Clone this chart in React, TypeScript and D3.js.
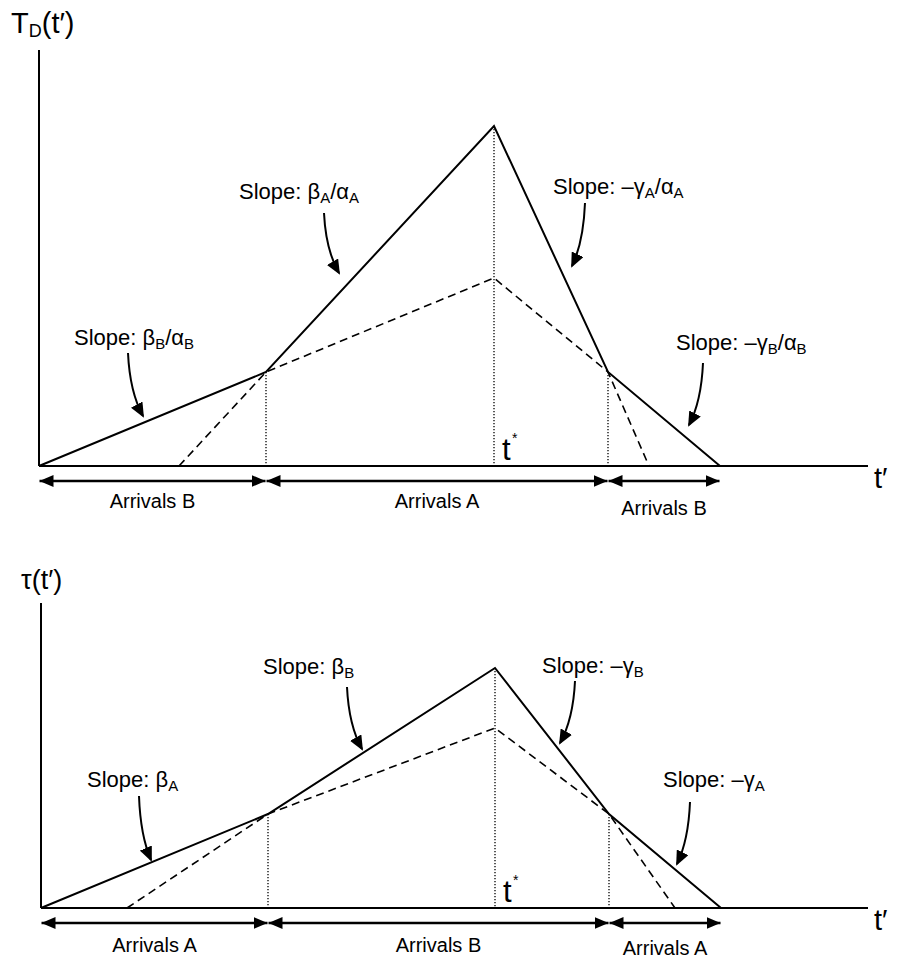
import React from "react";
import * as d3 from "d3";

// ---------- data ----------
// Top panel: T_D(t')
const topSolidT = [0, 227, 455, 569, 681];
const topSolidV = [0, 94, 340, 94, 0];
const topDashT = [140, 227, 455, 569, 610];
const topDashV = [0, 94, 188, 94, 0];
const topSegLabels = ["Arrivals B", "Arrivals A", "Arrivals B"];

// Bottom panel: tau(t')
const botSolidT = [0, 227, 454, 568, 680];
const botSolidV = [0, 94, 240, 94, 0];
const botDashT = [86, 227, 454, 568, 634];
const botDashV = [0, 94, 180, 94, 0];
const botSegLabels = ["Arrivals A", "Arrivals B", "Arrivals A"];

type Slope = { parts: [string, string][]; x: number; y: number; from: [number, number]; to: [number, number] };

const topSlopes: Slope[] = [
  { parts: [["β", "A"], ["/α", "A"]], x: 239, y: 199, from: [324, 213], to: [339, 273] },
  { parts: [["–γ", "A"], ["/α", "A"]], x: 553, y: 194, from: [585, 203], to: [572, 266] },
  { parts: [["β", "B"], ["/α", "B"]], x: 74, y: 345, from: [128, 353], to: [143, 416] },
  { parts: [["–γ", "B"], ["/α", "B"]], x: 676, y: 350, from: [703, 363], to: [689, 425] },
];
const botSlopes: Slope[] = [
  { parts: [["β", "B"]], x: 263, y: 674, from: [347, 687], to: [362, 749] },
  { parts: [["–γ", "B"]], x: 542, y: 673, from: [575, 681], to: [560, 743] },
  { parts: [["β", "A"]], x: 87, y: 787, from: [139, 796], to: [151, 860] },
  { parts: [["–γ", "A"]], x: 663, y: 787, from: [690, 802], to: [677, 864] },
];

const FONT = "Liberation Sans, Arial, sans-serif";

function Panel(props: {
  x0: number; x1: number; yTop: number; yBase: number; vMax: number; tMax: number;
  solidT: number[]; solidV: number[]; dashT: number[]; dashV: number[]; segLabels: string[];
  arrowY: number; labelYs: number[]; id: string;
}) {
  const { x0, x1, yTop, yBase, vMax, tMax, solidT, solidV, dashT, dashV, segLabels, arrowY, labelYs, id } = props;
  const x = d3.scaleLinear().domain([0, tMax]).range([x0, x1]);
  const y = d3.scaleLinear().domain([0, vMax]).range([yBase, yTop]);
  const gen = d3.line<[number, number]>().x(d => x(d[0])).y(d => y(d[1]));
  const solid = gen(solidT.map((t, i) => [t, solidV[i]]))!;
  const dash = gen(dashT.map((t, i) => [t, dashV[i]]))!;
  const bounds = [solidT[0], solidT[1], solidT[3], solidT[4]];
  return (
    <g>
      <defs>
        <marker id={id + "he"} viewBox="0 0 14 12" refX={14} refY={6} markerWidth={14} markerHeight={12}
          markerUnits="userSpaceOnUse" orient="auto">
          <path d="M0,0 L14,6 L0,12 Z" fill="#000" />
        </marker>
        <marker id={id + "hs"} viewBox="0 0 14 12" refX={0} refY={6} markerWidth={14} markerHeight={12}
          markerUnits="userSpaceOnUse" orient="auto">
          <path d="M14,0 L0,6 L14,12 Z" fill="#000" />
        </marker>
      </defs>
      {/* axes */}
      <line x1={x0} y1={yTop} x2={x0} y2={yBase} stroke="#000" strokeWidth={2} />
      <line x1={x0} y1={yBase} x2={x1} y2={yBase} stroke="#000" strokeWidth={2} />
      {/* dotted verticals */}
      {[1, 2, 3].map(i => (
        <line key={i} x1={x(solidT[i])} x2={x(solidT[i])} y1={y(solidV[i])} y2={yBase}
          stroke="#000" strokeWidth={1.3} strokeDasharray="1.3 1.7" />
      ))}
      <path d={dash} fill="none" stroke="#000" strokeWidth={1.6} strokeDasharray="8 5" />
      <path d={solid} fill="none" stroke="#000" strokeWidth={2} strokeLinejoin="miter" />
      {/* t* */}
      <text x={x(solidT[2]) + 8} y={yBase - 6} fontFamily={FONT} fontSize={31}>t</text>
      <text x={x(solidT[2]) + 18} y={yBase - 23} fontFamily={FONT} fontSize={14}>*</text>
      {/* segment arrows */}
      {[0, 1, 2].map(i => (
        <line key={"a" + i} x1={x(bounds[i]) + 0.5} x2={x(bounds[i + 1]) - 0.5} y1={arrowY} y2={arrowY}
          stroke="#000" strokeWidth={2.6} markerStart={`url(#${id}hs)`} markerEnd={`url(#${id}he)`} />
      ))}
      {segLabels.map((s, i) => (
        <text key={"l" + i} x={(x(bounds[i]) + x(bounds[i + 1])) / 2} y={labelYs[i]} textAnchor="middle"
          fontFamily={FONT} fontSize={20}>{s}</text>
      ))}
    </g>
  );
}

function SlopeLabel({ s }: { s: Slope }) {
  const [fx, fy] = s.from;
  const [tx, ty] = s.to;
  const cx = fx + (tx - fx) * 0.12;
  const cy = fy + (ty - fy) * 0.62;
  return (
    <g>
      <text x={s.x} y={s.y} fontFamily={FONT} fontSize={22}>
        {"Slope: "}
        {s.parts.map(([a, b], i) => (
          <React.Fragment key={i}>
            <tspan dy={i === 0 ? 0 : -4}>{a}</tspan>
            <tspan fontSize={15} dy={4}>{b}</tspan>
          </React.Fragment>
        ))}
      </text>
      <path d={`M${fx},${fy} Q${cx},${cy} ${tx},${ty}`} fill="none" stroke="#000" strokeWidth={2}
        markerEnd="url(#curvehead)" />
    </g>
  );
}

export default function App() {
  return (
    <svg width={900} height={958} style={{ display: "block", position: "absolute", left: 0, top: 0 }}>
      <rect width={900} height={958} fill="#fff" />
      <defs>
        <marker id="curvehead" viewBox="0 0 15 13" refX={13} refY={6.5} markerWidth={15} markerHeight={13}
          markerUnits="userSpaceOnUse" orient="auto">
          <path d="M0,0 L15,6.5 L0,13 Z" fill="#000" />
        </marker>
      </defs>
      {/* axis labels */}
      <text x={11} y={33} fontFamily={FONT} fontSize={29}>
        T<tspan fontSize={18} dy={4}>D</tspan><tspan dy={-4}>(t′)</tspan>
      </text>
      <text x={874} y={488} fontFamily={FONT} fontSize={29}>t′</text>
      <text x={21} y={589} fontFamily={FONT} fontSize={27}>τ(t′)</text>
      <text x={874} y={930} fontFamily={FONT} fontSize={29}>t′</text>

      <Panel id="p1" x0={39} x1={868} yTop={50} yBase={466} vMax={416} tMax={829}
        solidT={topSolidT} solidV={topSolidV} dashT={topDashT} dashV={topDashV}
        segLabels={topSegLabels} arrowY={481} labelYs={[508, 508, 515]} />
      <Panel id="p2" x0={41} x1={868} yTop={603} yBase={908} vMax={305} tMax={827}
        solidT={botSolidT} solidV={botSolidV} dashT={botDashT} dashV={botDashV}
        segLabels={botSegLabels} arrowY={923} labelYs={[952, 952, 955]} />

      {topSlopes.map((s, i) => <SlopeLabel key={"t" + i} s={s} />)}
      {botSlopes.map((s, i) => <SlopeLabel key={"b" + i} s={s} />)}
    </svg>
  );
}
